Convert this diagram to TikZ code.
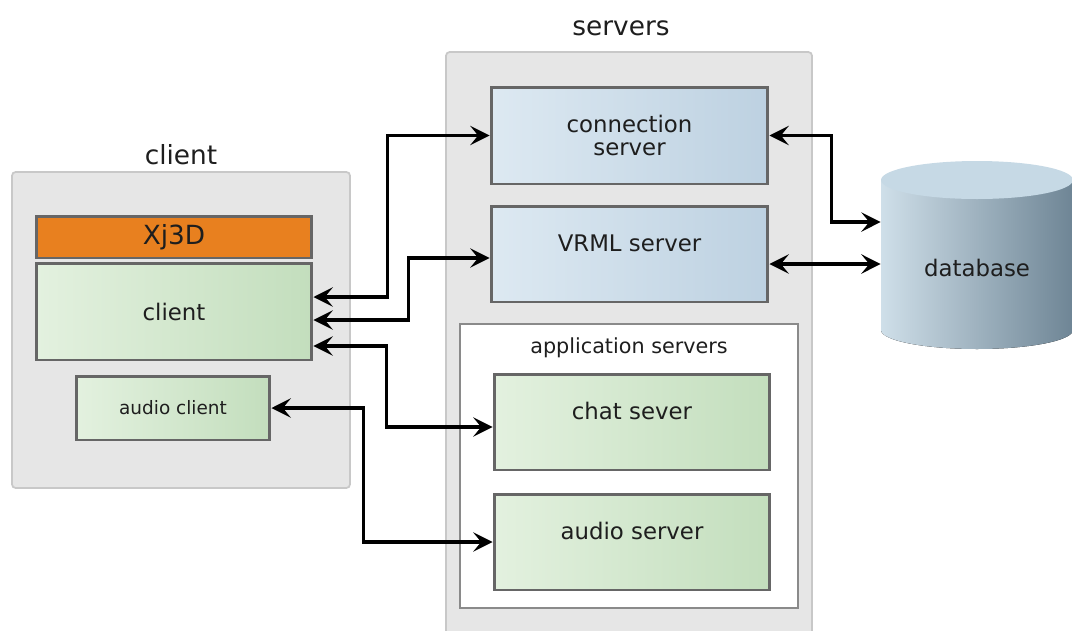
\documentclass[tikz,border=0pt]{standalone}
\usepackage{fontspec}
\setmainfont{DejaVu Sans}
\usepackage{xcolor}
\usetikzlibrary{arrows.meta,positioning}

\definecolor{grpfill}{HTML}{E6E6E6}
\definecolor{grpline}{HTML}{C8C8C8}
\definecolor{boxline}{HTML}{666666}
\definecolor{appline}{HTML}{8A8A8A}
\definecolor{xjorange}{HTML}{E8801F}
\definecolor{greenL}{HTML}{E3F1DF}
\definecolor{greenR}{HTML}{C3DEBD}
\definecolor{blueL}{HTML}{DDE9F2}
\definecolor{blueR}{HTML}{BDD1E1}
\definecolor{dbtop}{HTML}{C6D9E5}
\definecolor{dbL}{HTML}{CFDFE9}
\definecolor{dbM}{HTML}{A9BFCC}
\definecolor{dbR}{HTML}{6E8595}
\definecolor{txt}{HTML}{1E1E1E}

\begin{document}
\begin{tikzpicture}[x=0.02cm, y=-0.02cm,
    group/.style={rectangle, draw=grpline, line width=1pt, fill=grpfill, rounded corners=2pt},
    grouplabel/.style={font=\fontsize{15}{17}\selectfont, text=txt},
    box/.style={rectangle, draw=boxline, line width=1.7pt, font=\fontsize{13}{13.5}\selectfont, text=txt, align=center, inner sep=0pt},
    greenbox/.style={box, left color=greenL, right color=greenR},
    bluebox/.style={box, left color=blueL, right color=blueR},
    upper/.style={text depth=0.44cm},
    link/.style={<->, line width=2.2pt, >={Stealth[length=11pt,width=11pt,inset=4.5pt]}}
]
\useasboundingbox (0,0) rectangle (1072,630);
\clip (0,0) rectangle (1072,630);

% client side
\node[group, minimum width=6.76cm, minimum height=6.32cm] (clientgrp) at (181,330) {};
\node[grouplabel] (clientlbl) at (181,155) {client};
\node[box, fill=xjorange, minimum width=5.52cm, minimum height=0.84cm, font=\fontsize{15}{17}\selectfont] (xj3d) at (174,237) {Xj3D};
\node[greenbox, minimum width=5.52cm, minimum height=1.94cm] (client) at (174,311.5) {client};
\node[greenbox, minimum width=3.88cm, minimum height=1.28cm, font=\fontsize{10.5}{12}\selectfont] (audiocl) at (173,408) {audio client};

% servers side
\node[group, minimum width=7.32cm, minimum height=11.76cm] (srvgrp) at (629,346) {};
\node[grouplabel] (srvlbl) at (621,28) {servers};
\node[bluebox, minimum width=5.54cm, minimum height=1.94cm] (conn) at (629.5,135.5) {connection\\server};
\node[bluebox, upper, minimum width=5.54cm, minimum height=1.92cm] (vrml) at (629.5,254) {VRML server};
\node[rectangle, draw=appline, line width=1.2pt, fill=white, minimum width=6.76cm, minimum height=5.68cm] (appgrp) at (629,466) {};
\node[font=\fontsize{11.8}{13}\selectfont, text=txt] (applbl) at (629,348) {application servers};
\node[greenbox, upper, minimum width=5.52cm, minimum height=1.92cm] (chat) at (632,422) {chat sever};
\node[greenbox, upper, minimum width=5.52cm, minimum height=1.92cm] (audiosrv) at (632,542) {audio server};

% database
\fill[left color=dbL, middle color=dbM, right color=dbR] (881,180) -- (881,330)
    arc[start angle=180, end angle=360, x radius=1.92cm, y radius=0.38cm] -- (1073,180) -- cycle;
\fill[dbtop] (977,180) ellipse [x radius=1.92cm, y radius=0.38cm];
\node[font=\fontsize{13}{15}\selectfont, text=txt, minimum width=3.84cm, minimum height=2.9cm] (db) at (977,268) {database};

% connectors
\coordinate (vrmlout) at ([yshift=-0.2cm]vrml.east);
\draw[link] ([yshift=0.29cm]client.east) -- ++(74,0) |- (conn.west);
\draw[link] ([yshift=-0.17cm]client.east) -- ++(95,0) |- ([yshift=-0.08cm]vrml.west);
\draw[link] ([yshift=-0.69cm]client.east) -- ++(73,0) |- ([yshift=-0.1cm]chat.west);
\draw[link] (audiocl.east) -- ++(92,0) |- (audiosrv.west);
\draw[link] (conn.east) -- ++(62,0) |- ([yshift=0.92cm]db.west);
\draw[link] (vrmlout) -- (vrmlout -| db.west);

\end{tikzpicture}
\end{document}
